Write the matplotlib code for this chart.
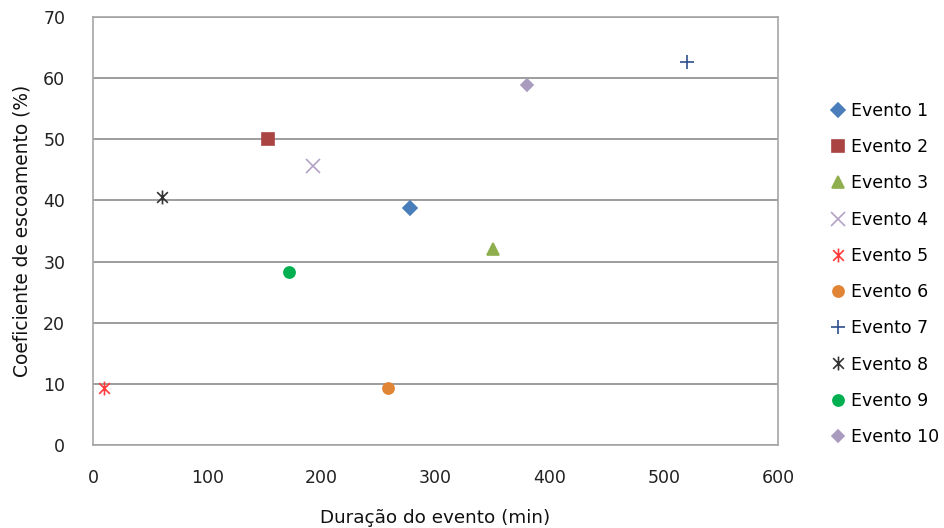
import matplotlib.pyplot as plt
from matplotlib.path import Path

plt.rcParams['font.family'] = ['DejaVu Sans']

# data
eventos = ["Evento 1", "Evento 2", "Evento 3", "Evento 4", "Evento 5",
           "Evento 6", "Evento 7", "Evento 8", "Evento 9", "Evento 10"]
duracao = [278, 153, 350, 193, 10, 258, 520, 60, 172, 380]
coef = [38.7, 50.0, 32.1, 45.6, 9.4, 9.4, 62.6, 40.6, 28.3, 58.8]

cores = ["#4A7EBB", "#A94442", "#8FAE4E", "#B3A2C7", "#FF3B3B",
         "#E08436", "#2F4F8F", "#333333", "#00B050", "#A99BBD"]

# excel-style "star" marker: an x with a vertical bar
star = Path([(-1, -1), (1, 1), (-1, 1), (1, -1), (0, -1.3), (0, 1.3)],
            [Path.MOVETO, Path.LINETO, Path.MOVETO, Path.LINETO, Path.MOVETO, Path.LINETO])
marcadores = ["D", "s", "^", "x", star, "o", "+", star, "o", "D"]
tamanhos = [7, 9, 9, 10, 10, 8, 10, 10, 8, 6.5]

fig = plt.figure(figsize=(9.44, 5.28), dpi=100)
ax = fig.add_axes([93 / 944, 1 - 445 / 528, 685 / 944, 428 / 528])

for i in range(len(eventos)):
    ax.plot(duracao[i], coef[i], linestyle="none", marker=marcadores[i],
            color=cores[i], markersize=tamanhos[i], markeredgewidth=1.2,
            label=eventos[i], clip_on=False, zorder=3)

ax.set_xlim(0, 600)
ax.set_ylim(0, 70)
ax.set_xticks(range(0, 601, 100))
ax.set_yticks(range(0, 71, 10))
ax.grid(axis="y", color="#8C8C8C", linewidth=1.2)
ax.set_axisbelow(True)
for s in ax.spines.values():
    s.set_color("#A6A6A6")
    s.set_linewidth(1.2)
ax.tick_params(length=0, labelsize=12.5, colors="#222222")
ax.tick_params(axis="x", pad=17)
ax.tick_params(axis="y", pad=20)

ax.set_xlabel("Duração do evento (min)", fontsize=13.2, color="#111111", labelpad=16)
ax.set_ylabel("Coeficiente de escoamento (%)", fontsize=13.4, color="#111111", labelpad=8)

fig.legend(loc="upper left", bbox_to_anchor=(823 / 944, 1 - 95 / 528), frameon=False,
           fontsize=12.5, handlelength=0.9, handletextpad=0.3, labelspacing=1.05,
           borderaxespad=0)

plt.savefig("out.png", dpi=100)
